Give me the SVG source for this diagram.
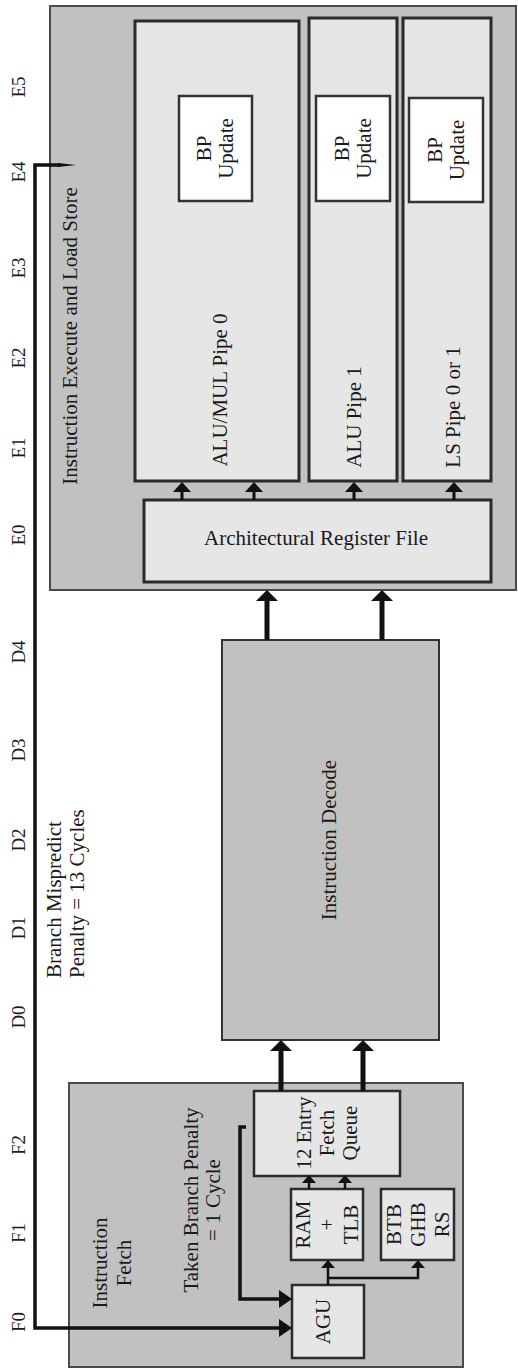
<svg xmlns="http://www.w3.org/2000/svg" width="518" height="1369" viewBox="0 0 518 1369">
  <style>
    .bg { fill: #ffffff; }
    .stagebox { fill: #c1c1c1; stroke: #4a4a4a; stroke-width: 2; }
    .unit { fill: #e6e6e6; stroke: #2b2b2b; stroke-width: 3; }
    .small { fill: #e6e6e6; stroke: #2b2b2b; stroke-width: 2.5; }
    .bp { fill: #ffffff; stroke: #333333; stroke-width: 2.5; }
    .decode { fill: #c1c1c1; stroke: #333333; stroke-width: 2; }
    .t { font-family: "Liberation Serif", "Times New Roman", serif; font-size: 21px; fill: #1a1a1a; text-anchor: middle; dominant-baseline: central; }
    .t tspan { dominant-baseline: central; }
    .st { font-size: 19px; }
    .start { text-anchor: start; }
    .wire { fill: none; stroke: #111111; stroke-linejoin: miter; }
    .w3 { stroke-width: 3; }
    .w35 { stroke-width: 3.5; }
    .w5 { stroke-width: 5; }
    .w25 { stroke-width: 2.5; }
    .head { fill: #111111; }
  </style>
  <defs>
    <marker id="ah-lg" markerUnits="userSpaceOnUse" markerWidth="11" markerHeight="22" refX="0" refY="11" orient="auto">
      <path class="head" d="M0,0 L11,11 L0,22 z"/>
    </marker>
    <marker id="ah-md" markerUnits="userSpaceOnUse" markerWidth="10" markerHeight="18" refX="0" refY="9" orient="auto">
      <path class="head" d="M0,0 L10,9 L0,18 z"/>
    </marker>
    <marker id="ah-agu" markerUnits="userSpaceOnUse" markerWidth="13" markerHeight="18" refX="0" refY="9" orient="auto">
      <path class="head" d="M0,0 L13,9 L0,18 z"/>
    </marker>
    <marker id="ah-sm" markerUnits="userSpaceOnUse" markerWidth="8" markerHeight="14" refX="0" refY="7" orient="auto">
      <path class="head" d="M0,0 L8,7 L0,14 z"/>
    </marker>
  </defs>

  <rect class="bg" x="0" y="0" width="518" height="1369"/>

  <!-- pipeline stage labels -->
  <g id="stages">
    <text class="t st" transform="translate(18,87) rotate(-90)">E5</text>
    <text class="t st" transform="translate(18,172) rotate(-90)">E4</text>
    <text class="t st" transform="translate(18,268) rotate(-90)">E3</text>
    <text class="t st" transform="translate(18,358) rotate(-90)">E2</text>
    <text class="t st" transform="translate(18,448) rotate(-90)">E1</text>
    <text class="t st" transform="translate(18,535) rotate(-90)">E0</text>
    <text class="t st" transform="translate(18,652) rotate(-90)">D4</text>
    <text class="t st" transform="translate(18,750) rotate(-90)">D3</text>
    <text class="t st" transform="translate(18,840) rotate(-90)">D2</text>
    <text class="t st" transform="translate(18,928) rotate(-90)">D1</text>
    <text class="t st" transform="translate(18,1017) rotate(-90)">D0</text>
    <text class="t st" transform="translate(18,1145) rotate(-90)">F2</text>
    <text class="t st" transform="translate(18,1233) rotate(-90)">F1</text>
    <text class="t st" transform="translate(18,1322) rotate(-90)">F0</text>
  </g>

  <!-- execute / load-store stage -->
  <g id="execute">
    <rect class="stagebox" x="50" y="6" width="466" height="584"/>
    <text class="t" transform="translate(70,336) rotate(-90)">Instruction Execute and Load Store</text>
  </g>

  <g id="alu-mul-pipe0">
    <rect class="unit" x="135" y="21" width="164" height="460"/>
    <text class="t" transform="translate(220,390) rotate(-90)">ALU/MUL Pipe 0</text>
  </g>
  <g id="alu-pipe1">
    <rect class="unit" x="309" y="18" width="88" height="463"/>
    <text class="t" transform="translate(354,417) rotate(-90)">ALU Pipe 1</text>
  </g>
  <g id="ls-pipe">
    <rect class="unit" x="403" y="18" width="88" height="463"/>
    <text class="t" transform="translate(453,407) rotate(-90)">LS Pipe 0 or 1</text>
  </g>

  <g id="bp-update-0">
    <rect class="bp" x="179" y="96" width="73" height="105"/>
    <text class="t" transform="translate(215,148.5) rotate(-90)"><tspan x="0" dy="-11">BP</tspan><tspan x="0" dy="22">Update</tspan></text>
  </g>
  <g id="bp-update-1">
    <rect class="bp" x="316" y="96" width="74" height="105"/>
    <text class="t" transform="translate(353,148.5) rotate(-90)"><tspan x="0" dy="-11">BP</tspan><tspan x="0" dy="22">Update</tspan></text>
  </g>
  <g id="bp-update-2">
    <rect class="bp" x="409" y="98" width="74" height="104"/>
    <text class="t" transform="translate(446,150) rotate(-90)"><tspan x="0" dy="-11">BP</tspan><tspan x="0" dy="22">Update</tspan></text>
  </g>

  <g id="register-file">
    <rect class="unit" x="144" y="500" width="347" height="82"/>
    <text class="t" x="316" y="538">Architectural Register File</text>
  </g>

  <!-- decode stage -->
  <g id="decode">
    <rect class="decode" x="222" y="640" width="217" height="400"/>
    <text class="t" transform="translate(329,840) rotate(-90)">Instruction Decode</text>
  </g>

  <g id="mispredict-label">
    <text class="t start" transform="translate(0,978) rotate(-90)"><tspan x="0" y="54">Branch Mispredict</tspan><tspan x="0" y="77">Penalty = 13 Cycles</tspan></text>
  </g>

  <!-- fetch stage -->
  <g id="fetch">
    <rect class="stagebox" x="69" y="1083" width="394" height="284"/>
    <text class="t" transform="translate(112,1263) rotate(-90)"><tspan x="0" dy="-12">Instruction</tspan><tspan x="0" dy="24">Fetch</tspan></text>
  </g>

  <g id="taken-branch-label">
    <text class="t" transform="translate(202,1200) rotate(-90)"><tspan x="0" dy="-11">Taken Branch Penalty</tspan><tspan x="0" dy="22">= 1 Cycle</tspan></text>
  </g>

  <g id="fetch-queue">
    <rect class="small" x="254" y="1091" width="146" height="85"/>
    <text class="t" transform="translate(327,1133) rotate(-90)"><tspan x="0" dy="-23">12 Entry</tspan><tspan x="0" dy="23">Fetch</tspan><tspan x="0" dy="23">Queue</tspan></text>
  </g>

  <g id="ram-tlb">
    <rect class="small" x="291" y="1189" width="72" height="71"/>
    <text class="t" transform="translate(327,1224.5) rotate(-90)"><tspan x="0" dy="-24">RAM</tspan><tspan x="0" dy="24">+</tspan><tspan x="0" dy="24">TLB</tspan></text>
  </g>

  <g id="btb-ghb-rs">
    <rect class="small" x="381" y="1189" width="73" height="71"/>
    <text class="t" transform="translate(417.5,1224.5) rotate(-90)"><tspan x="0" dy="-24">BTB</tspan><tspan x="0" dy="24">GHB</tspan><tspan x="0" dy="24">RS</tspan></text>
  </g>

  <g id="agu">
    <rect class="small" x="292" y="1285" width="72" height="73"/>
    <text class="t" transform="translate(323,1321.5) rotate(-90)">AGU</text>
  </g>

  <!-- connectors -->
  <g id="connectors">
    <!-- register file to execution pipes -->
    <path class="wire w3" d="M182,500 V492" marker-end="url(#ah-md)"/>
    <path class="wire w3" d="M254,500 V492" marker-end="url(#ah-md)"/>
    <path class="wire w3" d="M354,500 V492" marker-end="url(#ah-md)"/>
    <path class="wire w3" d="M454,500 V492" marker-end="url(#ah-md)"/>
    <!-- decode to register file -->
    <path class="wire w5" d="M267,640 V601" marker-end="url(#ah-lg)"/>
    <path class="wire w5" d="M382,640 V601" marker-end="url(#ah-lg)"/>
    <!-- fetch queue to decode -->
    <path class="wire w5" d="M281,1091 V1051" marker-end="url(#ah-lg)"/>
    <path class="wire w5" d="M363,1091 V1051" marker-end="url(#ah-lg)"/>
    <!-- RAM + TLB to fetch queue -->
    <path class="wire w25" d="M309,1189 V1183" marker-end="url(#ah-sm)"/>
    <path class="wire w25" d="M345,1189 V1183" marker-end="url(#ah-sm)"/>
    <!-- AGU to RAM + TLB and BTB -->
    <path class="wire w25" d="M328,1285 V1268" marker-end="url(#ah-sm)"/>
    <path class="wire w25" d="M328,1278 H418 V1268" marker-end="url(#ah-sm)"/>
    <!-- taken branch loop back to AGU -->
    <path class="wire w35" d="M246,1127 H240 V1299 H279" marker-end="url(#ah-agu)"/>
    <!-- branch mispredict redirect from E4 to AGU -->
    <path class="wire w35" d="M60,165 H35 V1328 H279" marker-end="url(#ah-agu)"/>
    <path class="head" d="M58,163 L76,165 L58,167 z"/>
  </g>
</svg>
